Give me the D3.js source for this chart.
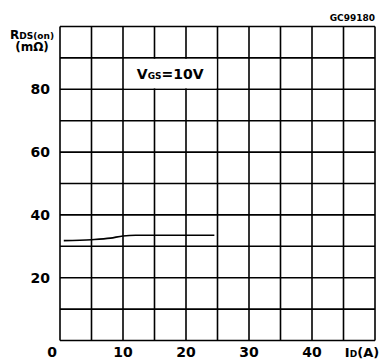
<!DOCTYPE html>
<html>
<head>
<meta charset="utf-8">
<script src="https://cdn.jsdelivr.net/npm/d3@7"></script>
<style>
body{margin:0;background:#fff;}
text{font-family:"DejaVu Sans",sans-serif;font-weight:bold;fill:#000;}
</style>
</head>
<body>
<div id="chart"></div>
<script>
var width = 385, height = 364
var xTicks = [0, 10, 20, 30, 40]
var yTicks = [20, 40, 60, 80]
var idVals = [0.6, 5, 8, 10, 12, 24.5]
var rdsVals = [31.8, 32.1, 32.6, 33.3, 33.5, 33.5]

var x = d3.scaleLinear().domain([0, 50]).range([60, 375])
var y = d3.scaleLinear().domain([0, 100]).range([340.5, 26.5])

var svg = d3.select("#chart").append("svg").attr("width", width).attr("height", height)

// grid
var g = svg.append("g").attr("stroke", "#000").attr("stroke-width", 1.6)
g.selectAll(".v").data(d3.range(0, 55, 5)).enter().append("line")
    .attr("x1", function(d){return x(d)}).attr("x2", function(d){return x(d)})
    .attr("y1", y(0)).attr("y2", y(100))
g.selectAll(".h").data(d3.range(0, 110, 10)).enter().append("line")
    .attr("y1", function(d){return y(d)}).attr("y2", function(d){return y(d)})
    .attr("x1", x(0)).attr("x2", x(50))

// box behind Vgs label
svg.append("rect").attr("x", x(10) + 1).attr("y", y(90) + 1)
    .attr("width", x(25) - x(10) - 2).attr("height", y(80) - y(90) - 2).attr("fill", "#fff")
var vg = svg.append("text").attr("x", x(17.5)).attr("y", y(85) + 5).attr("text-anchor", "middle").attr("font-size", 14)
vg.append("tspan").text("V")
vg.append("tspan").attr("font-size", 9).text("GS")
vg.append("tspan").text("=10V")

// curve
var line = d3.line().x(function(d){return x(d[0])}).y(function(d){return y(d[1])}).curve(d3.curveMonotoneX)
svg.append("path").datum(d3.zip(idVals, rdsVals)).attr("d", line)
    .attr("fill", "none").attr("stroke", "#000").attr("stroke-width", 1.6)

// tick labels
svg.selectAll(".xl").data(xTicks).enter().append("text")
    .attr("x", function(d){return d === 0 ? x(d) - 8 : x(d)}).attr("y", 357)
    .attr("text-anchor", "middle").attr("font-size", 14).text(function(d){return d})
svg.selectAll(".yl").data(yTicks).enter().append("text")
    .attr("x", 50).attr("y", function(d){return y(d) + 5})
    .attr("text-anchor", "end").attr("font-size", 14).text(function(d){return d})

var xa = svg.append("text").attr("x", 362).attr("y", 357).attr("text-anchor", "middle").attr("font-size", 13)
xa.append("tspan").text("I")
xa.append("tspan").attr("font-size", 9).text("D")
xa.append("tspan").text("(A)")

var ya = svg.append("text").attr("x", 32).attr("y", 39).attr("text-anchor", "middle").attr("font-size", 12)
ya.append("tspan").text("R")
ya.append("tspan").attr("font-size", 9).text("DS(on)")
svg.append("text").attr("x", 32).attr("y", 51).attr("text-anchor", "middle").attr("font-size", 12).text("(m\u03a9)")

svg.append("text").attr("x", 375).attr("y", 21).attr("text-anchor", "end").attr("font-size", 9).text("GC99180")
</script>
</body>
</html>
